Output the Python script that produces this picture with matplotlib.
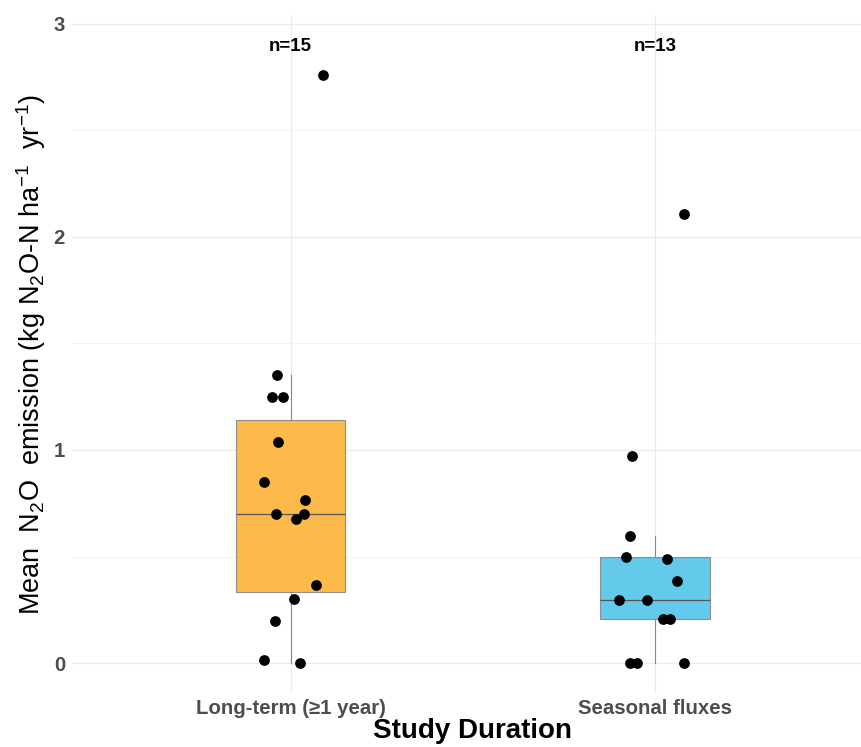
import numpy as np
import matplotlib.pyplot as plt

plt.rcParams['font.family'] = ['Liberation Sans', 'DejaVu Sans']
plt.rcParams['mathtext.fontset'] = 'custom'
plt.rcParams['mathtext.rm'] = 'Liberation Sans'
plt.rcParams['mathtext.it'] = 'Liberation Sans:italic'
plt.rcParams['mathtext.bf'] = 'Liberation Sans:bold'

# data (kg N2O-N / ha / yr)
groups = ['Long-term (≥1 year)', 'Seasonal fluxes']
long_term = [1.35, 1.248, 1.248, 1.037, 0.849, 0.767, 0.698, 0.675, 0.698,
             0.367, 0.299, 0.198, 0.017, 0.0, 2.76]
long_jitter = [-0.037, -0.051, -0.021, -0.036, -0.072, 0.039, -0.041, 0.016, 0.036,
               0.070, 0.010, -0.044, -0.072, 0.027, 0.090]
seasonal = [0.970, 0.595, 0.498, 0.487, 0.386, 0.297, 0.297, 0.206, 0.206,
            0.0, 0.0, 0.0, 2.105]
seasonal_jitter = [-0.064, -0.070, -0.080, 0.034, 0.061, -0.098, -0.023, 0.023, 0.041,
                   -0.070, -0.049, 0.078, 0.080]
box_colors = ['#FBB73F', '#5BC8EB']

fig = plt.figure(figsize=(8.61, 7.47), dpi=100)
ax = fig.add_axes([0.0836, 0.0723, 0.9164, 0.9076])
ax.set_axisbelow(True)

data = [long_term, seasonal]
bp = ax.boxplot(data, positions=[1, 2], widths=0.3, patch_artist=True,
                showfliers=False, showcaps=False, whis=1.5,
                boxprops=dict(edgecolor='#8a8a8a', linewidth=0.8),
                whiskerprops=dict(color='#8a8a8a', linewidth=0.8),
                medianprops=dict(color='#555555', linewidth=0.9))
for patch, c in zip(bp['boxes'], box_colors):
    patch.set_facecolor(c)
    patch.set_alpha(0.95)

jitters = [long_jitter, seasonal_jitter]
for i, (vals, jit) in enumerate(zip(data, jitters)):
    xs = np.array(jit) + i + 1
    ax.scatter(xs, vals, s=60, color='black', zorder=5, linewidths=0)
    ax.text(i + 1, 2.893, f'n={len(vals)}', ha='center', va='center',
            fontsize=13.5, fontweight='bold')

ax.set_xlim(0.4, 2.565)
ax.set_ylim(-0.14, 3.04)
ax.set_xticks([1, 2])
ax.set_xticklabels(groups)
ax.set_yticks([0, 1, 2, 3])
ax.set_yticks([0.5, 1.5, 2.5], minor=True)
ax.grid(which='major', color='#EBEBEB', linewidth=0.9)
ax.grid(which='minor', axis='y', color='#F3F3F3', linewidth=0.7)
ax.tick_params(which='both', length=0, labelsize=14.7, labelcolor='#4D4D4D')
ax.tick_params(axis='x', pad=4)
ax.tick_params(axis='y', pad=5)
for lab in ax.get_xticklabels() + ax.get_yticklabels():
    lab.set_fontweight('bold')
for s in ax.spines.values():
    s.set_visible(False)

ax.set_ylabel(r'Mean  N$_2$O  emission (kg N$_2$O-N ha$^{-1}$  yr$^{-1}$)', fontsize=19.5)
ax.yaxis.set_label_coords(-0.030, 0.5)
ax.set_xlabel('Study Duration', fontsize=20, fontweight='bold')
ax.xaxis.label.set_va('baseline')
ax.xaxis.set_label_coords(0.507, -0.0665)

plt.savefig('out.png', dpi=100)
